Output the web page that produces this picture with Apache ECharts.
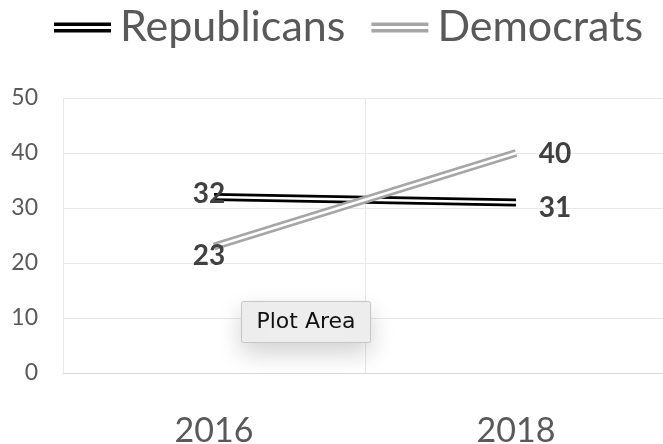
<!DOCTYPE html>
<html>
<head>
<meta charset="utf-8">
<script src="https://cdn.jsdelivr.net/npm/echarts@6/dist/echarts.min.js"></script>
<style>
html,body{margin:0;padding:0;background:#fff;}
#main{width:663px;height:444px;}
</style>
</head>
<body>
<div id="main"></div>
<script>
const categories = ['2016', '2018'];
const republicans = [32, 31];
const democrats = [23, 40];
const yTicks = [0, 10, 20, 30, 40, 50];

const chart = echarts.init(document.getElementById('main'), null, {renderer: 'canvas'});

const labelBase = {
  show: true,
  position: 'inside',
  fontFamily: 'Lato',
  fontWeight: 'bold',
  fontSize: 28,
  color: '#404040'
};

function labeled(values, offsets) {
  return values.map((v, i) => ({
    value: v,
    label: Object.assign({}, labelBase, {offset: offsets[i]})
  }));
}

const icon = 'path://M0,0H57V3.4H0Z M0,6.6H57V10H0Z';

const option = {
  backgroundColor: '#fff',
  animation: false,
  legend: {
    left: 54,
    top: 6,
    padding: 0,
    itemWidth: 57,
    itemHeight: 10,
    itemGap: 26,
    icon: icon,
    textStyle: {fontFamily: 'Lato', fontSize: 43, color: '#595959', padding: [0, 0, 0, 4]},
    data: [
      {name: 'Republicans', itemStyle: {color: '#000', borderWidth: 0}},
      {name: 'Democrats', itemStyle: {color: '#a6a6a6', borderWidth: 0}}
    ]
  },
  grid: {left: 63, top: 98, width: 604, height: 275, containLabel: false, outerBoundsMode: 'none'},
  xAxis: {
    type: 'category',
    data: categories,
    boundaryGap: true,
    axisLine: {show: true, lineStyle: {color: '#d9d9d9', width: 1}},
    axisTick: {show: false},
    splitLine: {show: true, lineStyle: {color: '#e8e8e8', width: 1}},
    axisLabel: {fontFamily: 'Lato', fontSize: 34, color: '#595959', margin: 41}
  },
  yAxis: {
    type: 'value',
    min: yTicks[0],
    max: yTicks[yTicks.length - 1],
    interval: 10,
    axisLine: {show: false},
    axisTick: {show: false},
    splitLine: {show: true, lineStyle: {color: '#e8e8e8', width: 1}},
    axisLabel: {fontFamily: 'Lato', fontSize: 23, color: '#595959', margin: 25}
  },
  series: [
    {
      name: 'Republicans', type: 'line', data: republicans, symbol: 'none',
      color: '#000', lineStyle: {color: '#000', width: 8}, z: 2
    },
    {
      name: 'R_inner', type: 'line', data: labeled(republicans, [[-5, -3], [39, 5]]),
      symbol: 'circle', symbolSize: 1, showSymbol: true,
      itemStyle: {color: 'rgba(0,0,0,0)'},
      lineStyle: {color: '#fff', width: 2.4}, z: 3
    },
    {
      name: 'Democrats', type: 'line', data: democrats, symbol: 'none',
      color: '#a6a6a6', lineStyle: {color: '#a6a6a6', width: 8}, z: 4
    },
    {
      name: 'D_inner', type: 'line', data: labeled(democrats, [[-5, 9], [39, 1]]),
      symbol: 'circle', symbolSize: 1, showSymbol: true,
      itemStyle: {color: 'rgba(0,0,0,0)'},
      lineStyle: {color: '#fff', width: 2.4}, z: 5
    }
  ],
  graphic: [
    {
      type: 'group', left: 241, top: 301, z: 100,
      children: [
        {
          type: 'rect', z: 100, shape: {x: 0, y: 0, width: 129, height: 41, r: 2},
          style: {fill: '#eeeeee', stroke: '#c6c6c6', lineWidth: 1,
                  shadowBlur: 24, shadowColor: 'rgba(0,0,0,0.18)', shadowOffsetY: 10}
        },
        {
          type: 'text', z: 101, x: 64.5, y: 21,
          style: {text: 'Plot Area', fontFamily: 'DejaVu Sans', fontSize: 22, fill: '#111',
                  align: 'center', verticalAlign: 'middle'}
        }
      ]
    }
  ]
};

chart.setOption(option);
</script>
</body>
</html>
